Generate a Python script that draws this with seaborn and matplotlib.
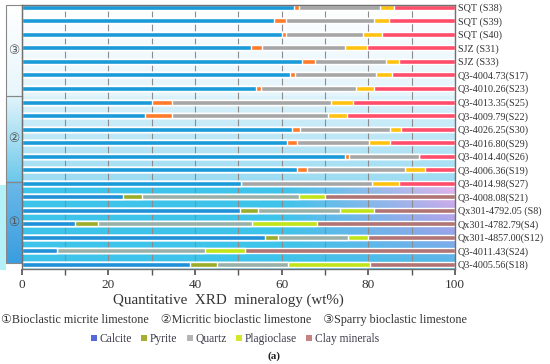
import numpy as np
import pandas as pd
import matplotlib
matplotlib.use("Agg")
import matplotlib.pyplot as plt
import matplotlib.transforms as mtransforms
from matplotlib.colors import to_rgb
from matplotlib.patches import Patch, Rectangle
import seaborn as sns

# Dados (wt%)
samples = [
    "SQT (S38)", "SQT (S39)", "SQT (S40)", "SJZ (S31)", "SJZ (S33)",
    "Q3-4004.73(S17)", "Q3-4010.26(S23)", "Q3-4013.35(S25)", "Q3-4009.79(S22)",
    "Q3-4026.25(S30)", "Q3-4016.80(S29)", "Q3-4014.40(S26)", "Q3-4006.36(S19)",
    "Q3-4014.98(S27)", "Q3-4008.08(S21)", "Qx301-4792.05 (S8)", "Qx301-4782.79(S4)",
    "Qx301-4857.00(S12)", "Q3-4011.43(S24)", "Q3-4005.56(S18)",
]
calcite = [62.9, 58.2, 60.0, 52.9, 64.7, 62.0, 54.1, 30.0, 28.4, 62.4,
           61.2, 74.7, 63.5, 50.7, 23.4, 50.4, 12.3, 56.2, 8.1, 38.9]
pyrite = [1.0, 2.8, 1.0, 2.6, 2.9, 1.2, 1.1, 4.7, 6.3, 1.8,
          2.3, 0.8, 2.3, 0.0, 4.3, 4.2, 5.4, 3.0, 0.0, 6.1]
quartz = [18.8, 20.2, 17.7, 19.2, 16.5, 18.6, 22.0, 36.8, 36.0, 20.8,
          16.6, 16.3, 22.7, 30.2, 36.2, 18.9, 35.4, 16.2, 34.2, 16.5]
plagioclase = [3.2, 3.5, 4.5, 5.1, 2.9, 3.7, 4.1, 4.9, 4.3, 2.5,
               4.9, 0.0, 4.5, 6.1, 6.1, 7.7, 15.1, 4.6, 9.3, 18.9]
minerals = ["Calcite", "Pyrite", "Quartz", "Plagioclase", "Clay minerals"]
group_labels = ["③", "②", "①"]
group_text = ("①Bioclastic micrite limestone    ②Micritic bioclastic limestone    "
              "③Sparry bioclastic limestone")

# Cores
cores = ["#1a9ad8", "#ff7a2a", "#a6a6a6", "#ffc20e", "#ff4d6a"]
cores_grupo1 = ["#2090d8", "#9aac28", "#98b0a8", "#c0e418", "#b07474"]
cores_legenda = ["#5468dc", "#a8ac30", "#b4b4b4", "#d4e62a", "#c48484"]

df = pd.DataFrame({"Amostra": samples, "Calcite": calcite, "Pyrite": pyrite,
                   "Quartz": quartz, "Plagioclase": plagioclase})
df["Clay minerals"] = 100 - df[minerals[:4]].sum(axis=1)
acumulado = df[minerals].cumsum(axis=1)
acumulado["Amostra"] = df["Amostra"]

sns.set_theme(style="white")
plt.rcParams["font.family"] = ["Liberation Serif", "DejaVu Sans"]

W, H = 550, 364
fig = plt.figure(figsize=(W / 100, H / 100), dpi=100)
x0, x1, y0, y1 = 21.5, 455, 4.7, 269
ax = fig.add_axes([x0 / W, 1 - y1 / H, (x1 - x0) / W, (y1 - y0) / H])

ytop, ybot = -0.19, 19.33
b32, b21, b1end = 6.53, 12.88, 18.9


def grad_v(c1, c2, n=60):
    t = np.linspace(0, 1, n)[:, None, None]
    return (1 - t) * np.array(to_rgb(c1)) + t * np.array(to_rgb(c2))


# Fundos em degradê
ax.imshow(grad_v("#ffffff", "#e4f5fc"), extent=(0, 100, b32, ytop),
          aspect="auto", zorder=0, interpolation="bilinear")
ax.imshow(grad_v("#dcf2fb", "#9cdcf2"), extent=(0, 100, b21, b32),
          aspect="auto", zorder=0, interpolation="bilinear")
n, m = 60, 120
ty = np.linspace(0, 1, n)[:, None, None]
c_a, c_b, c_c = (np.array(to_rgb(c)) for c in ("#ecb8ec", "#a8a0ea", "#48bce8"))
right = np.where(ty < 0.5, (1 - ty * 2) * c_a + ty * 2 * c_b,
                 (2 - ty * 2) * c_b + (ty * 2 - 1) * c_c)
tx = np.clip((np.linspace(0, 1, m)[None, :] - 0.6) / 0.4, 0, 1)[..., None]
left = np.array(to_rgb("#3ec4ea"))
img = (1 - tx) * left + tx * right
ax.imshow(img, extent=(0, 100, ybot, b21), aspect="auto", zorder=0,
          interpolation="bilinear")

# Barras empilhadas (do total para a primeira camada)
partes = [(acumulado.iloc[:14], cores), (acumulado.iloc[14:], cores_grupo1)]
for sub, pal in partes:
    for mineral, cor in reversed(list(zip(minerals, pal))):
        sns.barplot(data=sub, x=mineral, y="Amostra", order=samples, orient="h",
                    color=cor, saturation=1, width=0.37, errorbar=None, ax=ax)

ax.set_xticks(range(0, 101, 20))
ax.set_xticks(range(10, 100, 20), minor=True)
ax.grid(True, axis="x", which="both", color="#8c8c8c", lw=0.8)
ax.set_axisbelow(True)
ax.tick_params(axis="x", which="both", bottom=True, direction="out", length=4,
               color="#555555", labelsize=9.5, pad=3, labelcolor="#333333")
ax.yaxis.tick_right()
ax.tick_params(axis="y", length=0, pad=2, labelsize=7.3, labelcolor="#333333")
ax.set_xlabel("")
ax.set_ylabel("")
for s in ax.spines.values():
    s.set_color("#707070")
    s.set_linewidth(1)

# Caixas dos grupos à esquerda
trans = mtransforms.blended_transform_factory(ax.transAxes, ax.transData)
bx = (6 - x0) / (x1 - x0)
caixas = [(ytop, b32, ("#ffffff", "#e8f6fc")),
          (b32, b21, ("#e0f4fb", "#6cc8ea")),
          (b21, b1end, ("#6cb8e8", "#3a9ee0"))]
for (a, b, (c1, c2)), rotulo in zip(caixas, group_labels):
    im = ax.imshow(grad_v(c1, c2), extent=(bx * 100, 0, b, a), aspect="auto",
                   zorder=0, interpolation="bilinear")
    im.set_clip_on(False)
    ax.add_patch(Rectangle((bx, a), -bx, b - a, transform=trans, clip_on=False,
                           fill=False, edgecolor="#888888", lw=0.8))
    ax.text(bx / 2, (a + b) / 2, rotulo, transform=trans, ha="center", va="center",
            fontsize=9, color="#555555", family="DejaVu Sans")
fig.patches.append(Rectangle((0, 1 - 270 / H), 6 / W, 85 / H, transform=fig.transFigure,
                             facecolor="#b4f0f8", edgecolor="none", zorder=0))
ax.set_xlim(0, 100)
ax.set_ylim(ybot, ytop)

# Textos inferiores
fig.text(228 / W, 1 - 300 / H, "Quantitative  XRD  mineralogy (wt%)", ha="center",
         va="center", fontsize=10.8, color="#333333")
fig.text(234 / W, 1 - 320 / H, group_text, ha="center", va="center", fontsize=8.7,
         color="#333333", family=["Liberation Serif", "DejaVu Sans"])
handles = [Patch(facecolor=c, edgecolor="none", label=l) for c, l in zip(cores_legenda, minerals)]
fig.legend(handles=handles, loc="center", bbox_to_anchor=(235 / W, 1 - 339 / H), ncol=5,
           frameon=False, fontsize=8.3, handlelength=0.5, handleheight=0.5,
           handletextpad=0.25, columnspacing=0.8, labelcolor="#3a3a4a", borderpad=0)
fig.text(274 / W, 1 - 356 / H, "(a)", ha="center", va="center", fontsize=8,
         fontweight="bold", color="#222222")

fig.savefig("out.png", dpi=100)
